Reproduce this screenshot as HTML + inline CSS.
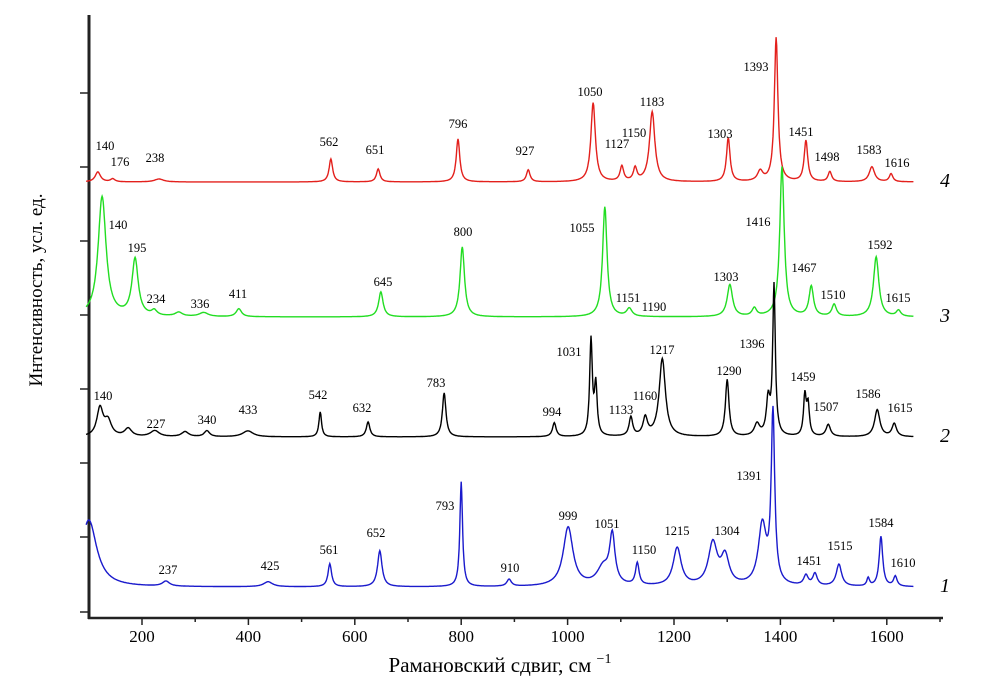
<!DOCTYPE html>
<html><head><meta charset="utf-8"><style>
body{margin:0;background:#fff;}
svg{display:block;font-family:"Liberation Serif",serif;}
</style></head><body>
<svg id="chart" width="985" height="697">
<g id="axes"></g>
<g id="series"></g>
<g id="labels"></g>
<text x="42" y="290" transform="rotate(-90 42 290)" text-anchor="middle" font-size="19">Интенсивность, усл. ед.</text>
<text x="500" y="672" text-anchor="middle" font-size="21">Рамановский сдвиг, см <tspan font-size="14" dy="-9">−1</tspan></text>
</svg>
<script>
const xTicks=[200,300,400,500,600,700,800,900,1000,1100,1200,1300,1400,1500,1600,1700];
const xTickLabels=["200","400","600","800","1000","1200","1400","1600"];
const yTickPx=[93,167,241,315,389,463,537,612];
const seriesNames=["4","3","2","1"];
const seriesColors=["#e3201c","#22dd22","#000000","#1a1acc"];
const baselines=[182,317,437,587];
// peak positions (cm-1), heights, widths
const redPos=[117,145,232,555,644,794,926,1048,1102,1127,1159,1302,1362,1392,1448,1493,1572,1608];
const redH=[10,3,3,23,13,43,12,79,15,13,70,44,10,144,41,10,15,8];
const redW=[6,5,10,4,4,4,4,5,4,4,6,4,6,4,4,4,6,4];
const greenPos=[125,187,223,269,316,382,649,802,1070,1116,1305,1351,1403,1458,1501,1580,1622];
const greenH=[120,57,5,4,4,8,25,70,110,8,32,8,150,30,12,60,6];
const greenW=[9,7,6,8,10,6,5,5,5,6,6,5,5,5,5,6,5];
const blackPos=[121,136,174,224,281,322,399,535,625,768,975,1044,1053,1119,1146,1178,1300,1356,1377,1388,1446,1452,1490,1582,1614];
const blackH=[28,15,8,6,5,6,6,25,15,44,14,96,50,19,18,78,57,12,35,150,40,30,12,27,13];
const blackW=[7,8,8,10,8,6,12,3,4,4,4,3,3,4,5,7,4,6,4,3,3,3,5,6,5];
const bluePos=[100,245,437,553,647,800,890,1001,1067,1084,1131,1206,1273,1296,1366,1386,1448,1465,1510,1565,1589,1616];
const blueH=[67,5,5,23,36,105,7,59,18,48,22,38,42,28,60,170,10,12,22,8,50,10];
const blueW=[18,8,10,4,5,3,5,11,14,6,4,9,10,9,9,4,5,5,6,3,4,4];
const allPos=[redPos,greenPos,blackPos,bluePos],allH=[redH,greenH,blackH,blueH],allW=[redW,greenW,blackW,blueW];
const annotations=[
[["140",105,150],["176",120,166],["238",155,162],["562",329,146],["651",375,154],["796",458,128],["927",525,155],["1050",590,96],["1127",617,148],["1150",634,137],["1183",652,106],["1303",720,138],["1393",756,71],["1451",801,136],["1498",827,161],["1583",869,154],["1616",897,167]],
[["140",118,229],["195",137,252],["234",156,303],["336",200,308],["411",238,298],["645",383,286],["800",463,236],["1055",582,232],["1151",628,302],["1190",654,311],["1303",726,281],["1416",758,226],["1467",804,272],["1510",833,299],["1592",880,249],["1615",898,302]],
[["140",103,400],["227",156,428],["340",207,424],["433",248,414],["542",318,399],["632",362,412],["783",436,387],["994",552,416],["1031",569,356],["1133",621,414],["1160",645,400],["1217",662,354],["1290",729,375],["1396",752,348],["1459",803,381],["1507",826,411],["1586",868,398],["1615",900,412]],
[["237",168,574],["425",270,570],["561",329,554],["652",376,537],["793",445,510],["910",510,572],["999",568,520],["1051",607,528],["1150",644,554],["1215",677,535],["1304",727,535],["1391",749,480],["1451",809,565],["1515",840,550],["1584",881,527],["1610",903,567]]
];
const NS="http://www.w3.org/2000/svg";
const X=v=>142+(v-200)*0.532;
function mk(tag,attrs,parent){const e=document.createElementNS(NS,tag);for(const k in attrs)e.setAttribute(k,attrs[k]);parent.appendChild(e);return e;}
const ax=document.getElementById('axes');
let e=mk('line',{x1:89,y1:15,x2:89,y2:619,stroke:'#222','stroke-width':3},ax);


e=mk('line',{x1:88,y1:618,x2:943,y2:618,stroke:'#222','stroke-width':2.5},ax);


xTicks.forEach(t=>{const major=t%200===0;const l=mk('line',{x1:X(t),y1:618,x2:X(t),y2:major?625:622,stroke:'#222','stroke-width':1.5},ax);

});
xTickLabels.forEach(s=>{const t=mk('text',{x:X(+s),y:642,'text-anchor':'middle','font-size':17},ax);t.textContent=s;

});
yTickPx.forEach(p=>{const l=mk('line',{x1:80,y1:p,x2:89,y2:p,stroke:'#222','stroke-width':1.5},ax);

});
const sg=document.getElementById('series');
for(let s=0;s<4;s++){
 let d='';
 for(let v=95;v<=1650;v+=1){
  let y=0;const P=allPos[s],H=allH[s],W=allW[s];
  for(let i=0;i<P.length;i++){const u=(v-P[i])/W[i];y+=H[i]/(1+u*u);}
  d+=(v===95?'M':'L')+X(v).toFixed(1)+','+(baselines[s]-y).toFixed(1);
 }
 const p=mk('path',{d:d,fill:'none',stroke:seriesColors[s],'stroke-width':1.4},sg);
 
 
 const n=mk('text',{x:940,y:baselines[s]+5,'font-size':20,'font-style':'italic'},sg);n.textContent=seriesNames[s];
 
 
}
const lg=document.getElementById('labels');
annotations.forEach(arr=>arr.forEach(a=>{const t=mk('text',{x:a[1],y:a[2],'text-anchor':'middle','font-size':12.5},lg);t.textContent=a[0];

}));
</script>
</body></html>
